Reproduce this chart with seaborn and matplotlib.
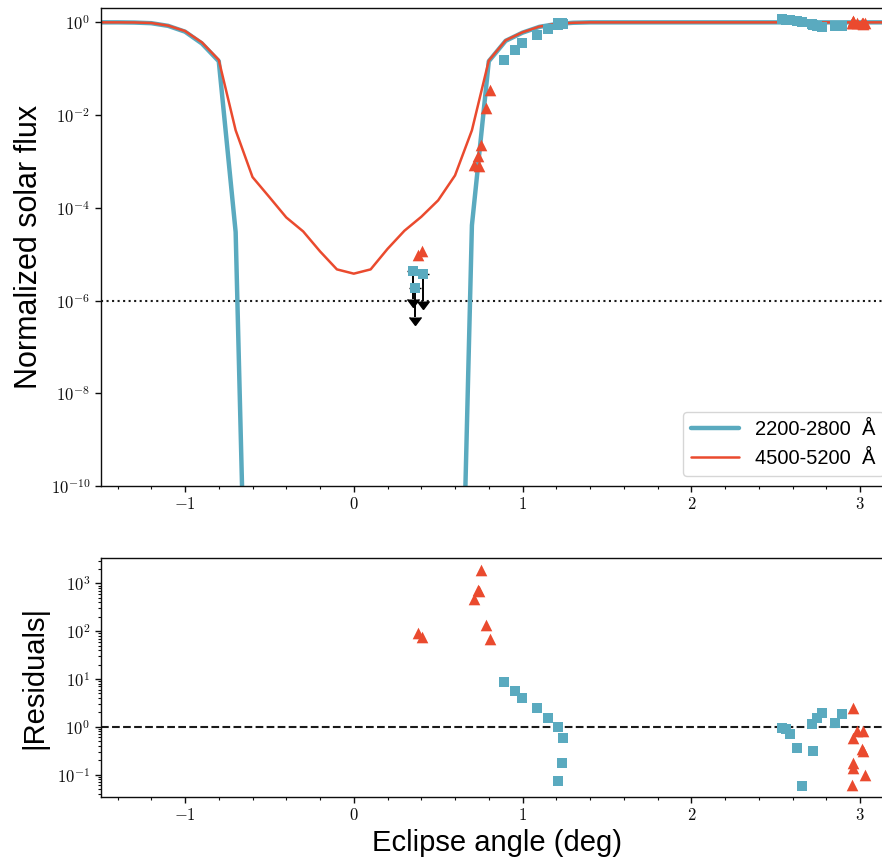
import math
import matplotlib
matplotlib.use("Agg")
import matplotlib.pyplot as plt
import seaborn as sns
import pandas as pd
from matplotlib.ticker import FixedLocator, FuncFormatter, NullLocator, LogLocator, MultipleLocator

# ---------------------------------------------------------------- model light curves
angle_model = [-1.5, -1.4, -1.3, -1.2, -1.1, -1.0, -0.9, -0.8, -0.7, -0.6,
               -0.5, -0.4, -0.3, -0.2, -0.1, 0.0, 0.1, 0.2, 0.3, 0.4, 0.5,
               0.6, 0.7, 0.8, 0.9, 1.0, 1.1, 1.2, 1.3, 1.4, 3.2]
flux_uv_model = [1.0, 1.0, 0.99, 0.96, 0.84, 0.63, 0.35, 0.145, 3.0e-5, 1e-19,
                 1e-40, 1e-40, 1e-40, 1e-40, 1e-40, 1e-40, 1e-40, 1e-40, 1e-40, 1e-40, 1e-40,
                 1e-19, 4.2e-5, 0.145, 0.40, 0.60, 0.80, 0.92, 0.98, 1.0, 1.0]
flux_vis_model = [1.0, 1.0, 0.995, 0.97, 0.85, 0.65, 0.37, 0.155, 4.7e-3, 4.6e-4,
                  1.7e-4, 6.2e-5, 3.1e-5, 1.15e-5, 4.7e-6, 3.8e-6, 4.7e-6, 1.3e-5, 3.2e-5, 6.4e-5, 1.45e-4,
                  5.0e-4, 4.7e-3, 0.15, 0.41, 0.61, 0.81, 0.93, 0.98, 1.0, 1.0]

# ---------------------------------------------------------------- observations
uv_angle = [0.891, 0.956, 0.995, 1.084, 1.149, 1.212, 1.238, 1.232, 1.212,
            2.536, 2.560, 2.585, 2.625, 2.655, 2.714, 2.723, 2.743, 2.773, 2.852, 2.892]
uv_flux = [0.155, 0.254, 0.353, 0.543, 0.72, 0.89, 0.93, 0.96, 0.99,
           1.18, 1.15, 1.12, 1.06, 1.00, 0.92, 0.88, 0.84, 0.79, 0.84, 0.83]
uv_resid = [8.8, 5.6, 4.06, 2.5, 1.55, 0.99, 0.57, 0.174, 0.075,
            0.95, 0.90, 0.69, 0.36, 0.057, 1.12, 0.31, 1.55, 1.97, 1.21, 1.82]

vis_angle = [0.383, 0.403, 0.713, 0.735, 0.744, 0.752, 0.782, 0.807,
             2.95, 2.96, 2.96, 2.96, 2.96, 2.98, 3.01, 3.02, 3.02, 3.03]
vis_flux = [9.4e-6, 1.2e-5, 8.5e-4, 1.34e-3, 7.9e-4, 2.31e-3, 0.014, 0.0349,
            0.98, 1.05, 1.08, 0.97, 1.0, 0.95, 0.98, 0.93, 0.96, 0.98]
vis_resid = [93, 76, 470, 720, 680, 1900, 135, 70,
             0.062, 2.5, 0.59, 0.176, 0.138, 0.81, 0.34, 0.81, 0.31, 0.097]

# upper limits during totality (UV band)
lim_angle = [0.349, 0.412, 0.363]
lim_flux = [4.3e-6, 3.8e-6, 1.9e-6]
lim_floor = [1.1e-6, 9.6e-7, 4.5e-7]

detection_limit = 1e-6

BLUE = "#5aaabf"
RED = "#ea4a2e"

sns.set_theme(style="ticks", rc={
    "axes.edgecolor": "0.05",
    "xtick.color": "0.05",
    "ytick.color": "0.05",
    "axes.labelcolor": "black",
    "text.color": "black",
    "axes.linewidth": 1.0,
})
plt.rcParams["font.family"] = ["Liberation Sans", "DejaVu Sans"]
plt.rcParams["mathtext.fontset"] = "cm"
plt.rcParams["mathtext.default"] = "rm"

fig = plt.figure(figsize=(8.82, 8.63), dpi=100)
ax1 = fig.add_axes([0.1141, 0.43685, 0.8993, 0.55388])
ax2 = fig.add_axes([0.1141, 0.07648, 0.8993, 0.27694])

model = pd.DataFrame({"angle": angle_model, "uv": flux_uv_model, "vis": flux_vis_model})

ax1.set_yscale("log")
sns.lineplot(data=model, x="angle", y="uv", color=BLUE, lw=3.2, estimator=None,
             sort=False, label="2200-2800  Å", ax=ax1, zorder=2)
sns.lineplot(data=model, x="angle", y="vis", color=RED, lw=1.8, estimator=None,
             sort=False, label="4500-5200  Å", ax=ax1, zorder=2.1)
ax1.axhline(detection_limit, color="k", ls=":", lw=1.5, zorder=1.5)

# downward arrows marking the upper limits
lim_err = [f - lo for f, lo in zip(lim_flux, lim_floor)]
eb = ax1.errorbar(lim_angle, lim_flux, yerr=lim_err, uplims=True, fmt="none",
                  ecolor="black", elinewidth=1.4, capsize=4, zorder=2.5)
for cap in eb[1]:
    cap.set_markerfacecolor("black")
    cap.set_markeredgecolor("black")

sns.scatterplot(x=uv_angle + lim_angle, y=uv_flux + lim_flux, marker="s", color=BLUE,
                s=62, linewidth=0, ax=ax1, zorder=3, legend=False)
sns.scatterplot(x=vis_angle, y=vis_flux, marker="^", color=RED,
                s=70, linewidth=0, ax=ax1, zorder=3.1, legend=False)

ax1.set_ylim(1e-10, 2.04)
ax1.set_xlim(-1.5, 3.2)
ax1.set_xlabel("")
ax1.set_ylabel("Normalized solar flux", fontsize=22, labelpad=5)
ax1.legend(loc="lower right", fontsize=14.5, handlelength=2.4, framealpha=0.8,
           edgecolor="0.8", fancybox=True)

# residual panel
ax2.set_yscale("log")
ax2.axhline(1.0, color="k", ls="--", lw=1.5, zorder=1)
sns.scatterplot(x=uv_angle, y=uv_resid, marker="s", color=BLUE, s=62,
                linewidth=0, ax=ax2, zorder=3, legend=False)
sns.scatterplot(x=vis_angle, y=vis_resid, marker="^", color=RED, s=70,
                linewidth=0, ax=ax2, zorder=3.1, legend=False)
ax2.set_xlim(-1.5, 3.2)
ax2.set_ylim(0.034, 3390)
ax2.set_xlabel("Eclipse angle (deg)", fontsize=21)
ax2.set_ylabel("|Residuals|", fontsize=21, labelpad=6)

int_fmt = FuncFormatter(lambda v, p: rf"${v:.0f}$")
pow_fmt = FuncFormatter(lambda v, p: rf"$10^{{{round(math.log10(v))}}}$")

for ax in (ax1, ax2):
    ax.xaxis.set_major_locator(FixedLocator([-1, 0, 1, 2, 3]))
    ax.xaxis.set_minor_locator(MultipleLocator(0.2))
    ax.xaxis.set_major_formatter(int_fmt)
    ax.tick_params(axis="both", which="major", labelsize=12, length=4, width=1)
    ax.tick_params(axis="both", which="minor", length=2.5, width=0.8)
    for s in ax.spines.values():
        s.set_visible(True)

ax1.yaxis.set_major_locator(FixedLocator([1e-10, 1e-8, 1e-6, 1e-4, 1e-2, 1e0]))
ax1.yaxis.set_minor_locator(NullLocator())
ax1.yaxis.set_major_formatter(pow_fmt)

ax2.yaxis.set_major_locator(FixedLocator([1e-1, 1e0, 1e1, 1e2, 1e3]))
ax2.yaxis.set_minor_locator(LogLocator(base=10, subs=[2, 3, 4, 5, 6, 7, 8, 9], numticks=20))
ax2.yaxis.set_major_formatter(pow_fmt)
ax2.yaxis.set_minor_formatter(FuncFormatter(lambda v, p: ""))

fig.savefig("out.png", dpi=100)
